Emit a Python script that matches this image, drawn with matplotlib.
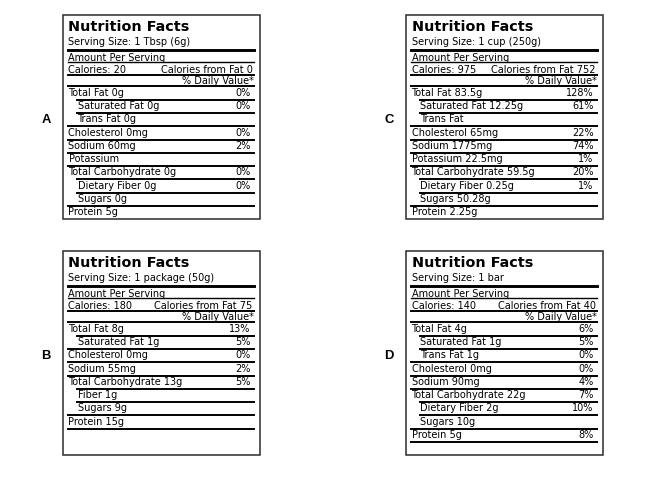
import matplotlib
matplotlib.use("Agg")
import matplotlib.pyplot as plt
from matplotlib.patches import Rectangle

# label contents
letters = ["A", "B", "C", "D"]
servings = ["1 Tbsp (6g)", "1 package (50g)", "1 cup (250g)", "1 bar"]
calories = [20, 180, 975, 140]
fat_calories = [0, 75, 752, 40]

A_rows = ["Total Fat 0g", "Saturated Fat 0g", "Trans Fat 0g", "Cholesterol 0mg",
          "Sodium 60mg", "Potassium", "Total Carbohydrate 0g", "Dietary Fiber 0g",
          "Sugars 0g", "Protein 5g"]
A_dv = ["0%", "0%", "", "0%", "2%", "", "0%", "0%", "", ""]
A_sub = [0, 1, 1, 0, 0, 0, 0, 1, 1, 0]

B_rows = ["Total Fat 8g", "Saturated Fat 1g", "Cholesterol 0mg", "Sodium 55mg",
          "Total Carbohydrate 13g", "Fiber 1g", "Sugars 9g", "Protein 15g"]
B_dv = ["13%", "5%", "0%", "2%", "5%", "", "", ""]
B_sub = [0, 1, 0, 0, 0, 1, 1, 0]

C_rows = ["Total Fat 83.5g", "Saturated Fat 12.25g", "Trans Fat", "Cholesterol 65mg",
          "Sodium 1775mg", "Potassium 22.5mg", "Total Carbohydrate 59.5g",
          "Dietary Fiber 0.25g", "Sugars 50.28g", "Protein 2.25g"]
C_dv = ["128%", "61%", "", "22%", "74%", "1%", "20%", "1%", "", ""]
C_sub = [0, 1, 1, 0, 0, 0, 0, 1, 1, 0]

D_rows = ["Total Fat 4g", "Saturated Fat 1g", "Trans Fat 1g", "Cholesterol 0mg",
          "Sodium 90mg", "Total Carbohydrate 22g", "Dietary Fiber 2g", "Sugars 10g",
          "Protein 5g"]
D_dv = ["6%", "5%", "0%", "0%", "4%", "7%", "10%", "", "8%"]
D_sub = [0, 1, 1, 0, 0, 0, 1, 1, 0]

rows = [A_rows, B_rows, C_rows, D_rows]
dvs = [A_dv, B_dv, C_dv, D_dv]
subs = [A_sub, B_sub, C_sub, D_sub]

# box placement (pixels, top-left origin)
box_left = [63, 63, 406, 406]
box_top = [15, 251, 15, 251]
BOX_W, BOX_H = 196.5, 204
PITCH = 13.3
FONT = "DejaVu Sans"
BODY = 7.0


def draw_label(ax, k):
    L, T = box_left[k], box_top[k]
    R = L + BOX_W
    x0, x1 = L + 4.5, R - 5.5
    tx = L + 5.5
    ink = "black"

    ax.add_patch(Rectangle((L, T), BOX_W, BOX_H, fill=False, edgecolor="#2b2b2b",
                           lw=1.1, joinstyle="miter"))

    ax.text(tx, T + 15.7, "Nutrition Facts", fontsize=10.4, fontweight="heavy",
            family=FONT, color=ink, va="baseline")
    ax.text(tx, T + 30.3, "Serving Size: " + servings[k], fontsize=BODY,
            family=FONT, color=ink, va="baseline")
    ax.plot([x0, x1], [T + 34.5, T + 34.5], color=ink, lw=2.1)

    ax.text(tx, T + 45.6, "Amount Per Serving", fontsize=BODY, family=FONT,
            color=ink, va="baseline")
    ax.plot([x0, x1], [T + 46.8, T + 46.8], color=ink, lw=1.0)

    ax.text(tx, T + 57.7, "Calories: %d" % calories[k], fontsize=BODY, family=FONT,
            color=ink, va="baseline")
    ax.text(x1 - 1.5, T + 57.7, "Calories from Fat %d" % fat_calories[k], fontsize=BODY,
            family=FONT, color=ink, va="baseline", ha="right")
    ax.plot([x0, x1], [T + 60.2, T + 60.2], color=ink, lw=1.4)

    ax.text(x1, T + 69.0, "% Daily Value*", fontsize=BODY, family=FONT,
            color=ink, va="baseline", ha="right")
    top = T + 71.3
    ax.plot([x0, x1], [top, top], color=ink, lw=1.4)

    n = len(rows[k])
    for i, (name, dv, sub) in enumerate(zip(rows[k], dvs[k], subs[k])):
        y_top = top + i * PITCH
        ax.text(tx + 9 * sub, y_top + 9.3, name, fontsize=BODY, family=FONT,
                color=ink, va="baseline")
        if dv:
            ax.text(x1 - 3.5, y_top + 9.3, dv, fontsize=BODY, family=FONT,
                    color=ink, va="baseline", ha="right")
        y_bot = y_top + PITCH
        # rule under the row: indented when the next row is a sub-item
        if i < n - 1:
            xs = x0 + 9 * subs[k][i + 1]
            ax.plot([xs, x1], [y_bot, y_bot], color=ink, lw=1.4)
        elif y_bot < T + BOX_H - 4:
            ax.plot([x0, x1], [y_bot, y_bot], color=ink, lw=1.4)

    ax.text(L - 17, T + 105, letters[k], fontsize=9.4, fontweight="bold",
            family="Liberation Sans", color=ink, ha="center", va="center")


fig = plt.figure(figsize=(6.49, 4.78), dpi=100)
ax = fig.add_axes([0, 0, 1, 1])
ax.set_xlim(0, 649)
ax.set_ylim(478, 0)
ax.axis("off")

for k in range(4):
    draw_label(ax, k)

fig.savefig("out.png", dpi=100)
